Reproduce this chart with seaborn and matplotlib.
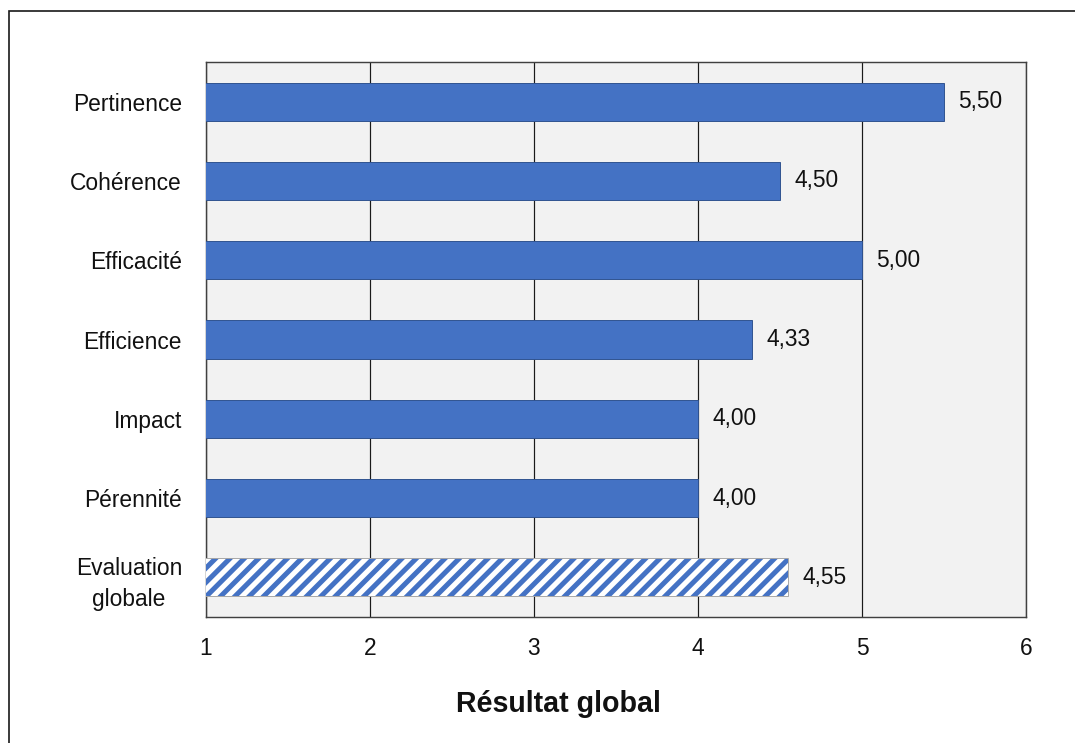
import matplotlib
matplotlib.use("Agg")
import matplotlib.pyplot as plt
import seaborn as sns
import pandas as pd
from matplotlib.patches import Rectangle

categories = ["Pertinence", "Cohérence", "Efficacité", "Efficience", "Impact",
              "Pérennité", "Evaluation\nglobale"]
scores = [5.50, 4.50, 5.00, 4.33, 4.00, 4.00, 4.55]
x_ticks = [1, 2, 3, 4, 5, 6]
x_label = "Résultat global"

BLUE = "#4472C4"
INK = "#111111"
DPI = 86

sns.set_style("white")
plt.rcParams["font.family"] = ["Liberation Sans Narrow", "Liberation Sans", "DejaVu Sans"]
plt.rcParams["hatch.linewidth"] = 4.2
plt.rcParams["text.color"] = INK
plt.rcParams["xtick.color"] = INK
plt.rcParams["ytick.color"] = INK
plt.rcParams["axes.labelcolor"] = INK

df = pd.DataFrame({"cat": categories, "score": scores})

fig = plt.figure(figsize=(1075 / DPI, 743 / DPI), dpi=DPI)
W, H = 1075, 743
ax = fig.add_axes([206 / W, 1 - 617 / H, (1026 - 206) / W, (617 - 62) / H])
ax.set_facecolor("#F2F2F2")

sns.barplot(data=df, x="score", y="cat", orient="h", color=BLUE, width=0.48,
            saturation=1, edgecolor="#2F528F", linewidth=0.8, ax=ax, zorder=3)

# overall score bar: blue diagonal stripes on white
last = ax.patches[len(scores) - 1]
last.set_facecolor("white")
last.set_edgecolor(BLUE)
last.set_linewidth(0)
last.set_hatch("//")
ax.add_patch(Rectangle(last.get_xy(), last.get_width(), last.get_height(),
                       fill=False, edgecolor="#A6A6A6", linewidth=0.8, zorder=4))

ax.bar_label(ax.containers[0], labels=[f"{v:.2f}".replace(".", ",") for v in scores],
             padding=12, fontsize=19, color=INK)

ax.set_xlim(x_ticks[0], x_ticks[-1])
ax.set_ylim(len(categories) - 0.5, -0.5)
ax.set_xticks(x_ticks)
ax.set_xticklabels([str(t) for t in x_ticks], fontsize=19)
ax.tick_params(axis="x", length=0, pad=17)
ax.tick_params(axis="y", length=0, pad=20, labelsize=19)
for lab in ax.get_yticklabels():
    lab.set_multialignment("center")
    lab.set_linespacing(1.45)

ax.grid(axis="x", color="#1A1A1A", linewidth=1.0, zorder=0)
ax.set_axisbelow(True)
for s in ax.spines.values():
    s.set_visible(True)
    s.set_color("#404040")
    s.set_linewidth(1.2)

ax.set_ylabel("")
ax.set_xlabel(x_label, fontsize=24, fontweight="bold")
ax.xaxis.set_label_coords((558 - 206) / (1026 - 206), -(704 - 617) / (617 - 62))
ax.xaxis.label.set_va("center")

# outer chart frame (open to the right and bottom)
fig.add_artist(Rectangle((9 / W, -0.1), 1.2, 1 - 11 / H + 0.1,
                         transform=fig.transFigure, fill=False,
                         edgecolor="#1A1A1A", linewidth=1.4))

fig.savefig("out.png", dpi=DPI, facecolor="white")
